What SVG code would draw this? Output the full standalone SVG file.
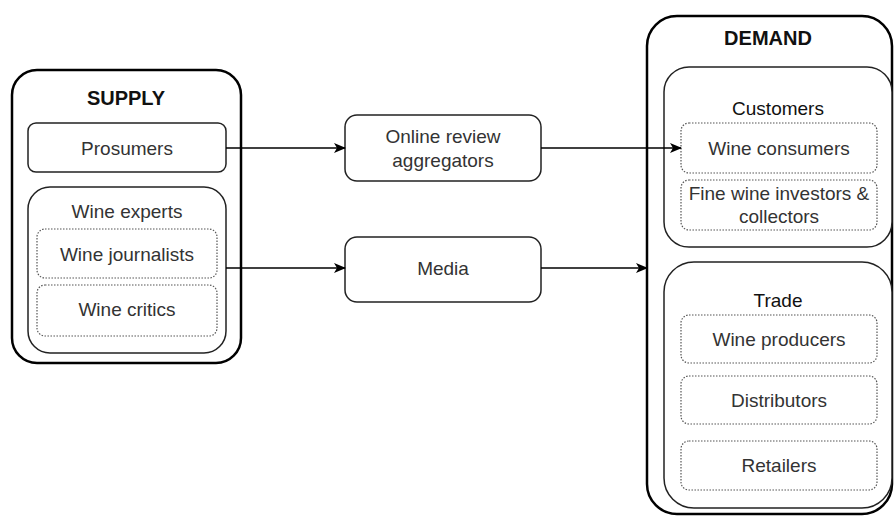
<svg xmlns="http://www.w3.org/2000/svg" width="896" height="518" viewBox="0 0 896 518">
<defs>
<marker id="ah" viewBox="0 0 12 10" refX="11" refY="5" markerWidth="12" markerHeight="10" markerUnits="userSpaceOnUse" orient="auto">
<path d="M0,0 L12,5 L0,10 L3,5 Z" fill="#000"/>
</marker>
<style>
.outer{fill:#fff;stroke:#000;stroke-width:2.5}
.box{fill:#fff;stroke:#222;stroke-width:1.5}
.dot{fill:#fff;stroke:#555;stroke-width:1.2;stroke-dasharray:1.5 1.5}
text{font-family:"Liberation Sans",Arial,sans-serif;font-size:19px;fill:#333;text-anchor:middle;dominant-baseline:central}
.title{font-weight:bold;fill:#111;font-size:20px}
.sub{fill:#111}
.conn{stroke:#000;stroke-width:1.6;fill:none;marker-end:url(#ah)}
</style>
</defs>
<rect width="896" height="518" fill="#fff"/>
<g id="supply">
<rect class="outer" x="12" y="70" width="229" height="293" rx="25"/>
<text class="title" x="126" y="98">SUPPLY</text>
</g>
<g id="prosumers">
<rect class="box" x="28" y="123" width="198" height="49" rx="8"/>
<text x="127" y="148">Prosumers</text>
</g>
<g id="wine-experts">
<rect class="box" x="28" y="187" width="198" height="166" rx="22"/>
<text x="127" y="211">Wine experts</text>
</g>
<g id="wine-journalists">
<rect class="dot" x="37" y="229" width="180" height="49" rx="8"/>
<text x="127" y="254">Wine journalists</text>
</g>
<g id="wine-critics">
<rect class="dot" x="37" y="285" width="180" height="51" rx="8"/>
<text x="127" y="309">Wine critics</text>
</g>
<g id="online-review">
<rect class="box" x="345" y="115" width="196" height="66" rx="12"/>
<text x="443" y="136">Online review</text>
<text x="443" y="160">aggregators</text>
</g>
<g id="media">
<rect class="box" x="345" y="237" width="196" height="65" rx="12"/>
<text x="443" y="268">Media</text>
</g>
<g id="demand">
<rect class="outer" x="647" y="16" width="245" height="498" rx="30"/>
<text class="title" x="768" y="38">DEMAND</text>
</g>
<g id="customers">
<rect class="box" x="664" y="67" width="228" height="180" rx="25"/>
<text class="sub" x="778" y="108">Customers</text>
</g>
<g id="wine-consumers">
<rect class="dot" x="681" y="123" width="196" height="50" rx="8"/>
<text x="779" y="148">Wine consumers</text>
</g>
<g id="fine-wine">
<rect class="dot" x="681" y="180" width="196" height="50" rx="8"/>
<text x="779" y="193">Fine wine investors &amp;</text>
<text x="779" y="216">collectors</text>
</g>
<g id="trade">
<rect class="box" x="664" y="262" width="228" height="246" rx="30"/>
<text class="sub" x="778" y="300">Trade</text>
</g>
<g id="wine-producers">
<rect class="dot" x="681" y="315" width="196" height="48" rx="8"/>
<text x="779" y="339">Wine producers</text>
</g>
<g id="distributors">
<rect class="dot" x="681" y="376" width="196" height="48" rx="8"/>
<text x="779" y="400">Distributors</text>
</g>
<g id="retailers">
<rect class="dot" x="681" y="441" width="196" height="49" rx="8"/>
<text x="779" y="465">Retailers</text>
</g>
<g id="connectors">
<path class="conn" d="M226,148 L345,148"/>
<path class="conn" d="M541,148 L681,148"/>
<path class="conn" d="M226,268 L345,268"/>
<path class="conn" d="M541,268 L647,268"/>
</g>
</svg>
